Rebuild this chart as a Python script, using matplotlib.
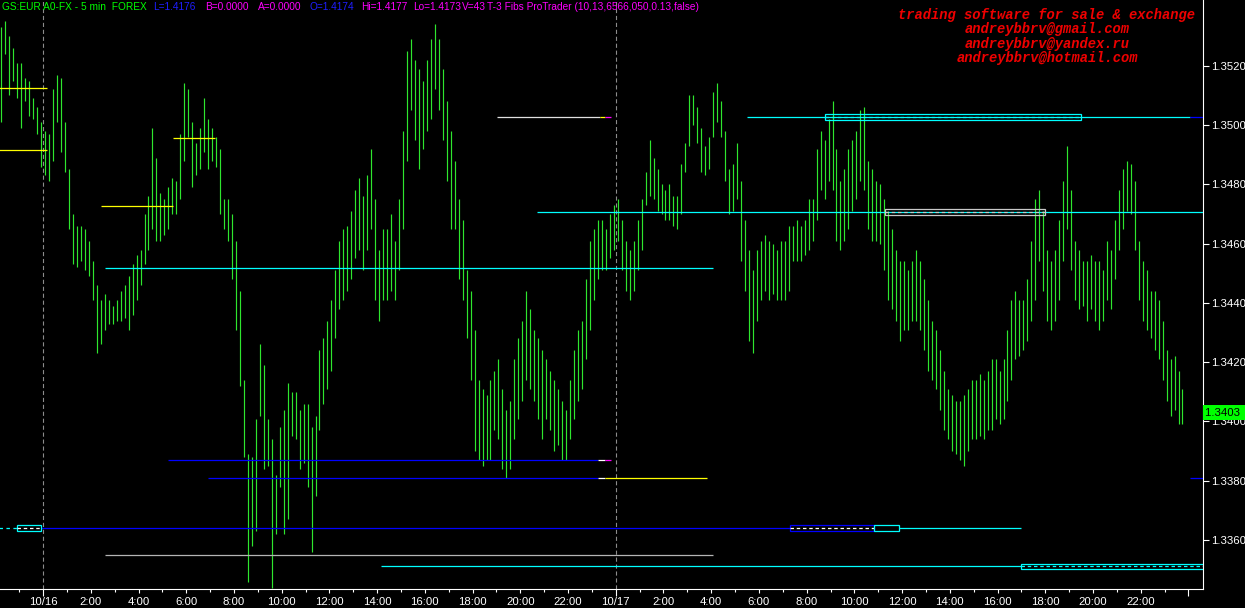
import numpy as np
import pandas as pd
import matplotlib
matplotlib.use("Agg")
import matplotlib.pyplot as plt
from matplotlib.patches import Rectangle
import matplotlib.transforms as mtransforms

plt.rcParams['lines.scale_dashes'] = False
plt.rcParams['font.family'] = ['Liberation Sans', 'DejaVu Sans']

# ---------------- data ----------------
BASE = 1.3            # prices below are in pips above 1.3000
PIP = 0.0001
bar_start = '2008-10-15 22:15'   # 10-minute bars
day0 = '2008-10-16'

high_pips = [
    533, 535, 530, 526, 521, 521, 516, 515, 509, 506,
    501, 498, 497, 512, 517, 516, 501, 485, 470, 466,
    466, 465, 461, 454, 446, 441, 443, 441, 439, 441,
    444, 446, 449, 453, 456, 458, 470, 476, 499, 489,
    477, 475, 479, 482, 481, 497, 514, 512, 501, 494,
    499, 509, 502, 499, 496, 492, 475, 475, 470, 461,
    444, 414, 389, 388, 401, 426, 419, 401, 394, 382,
    398, 404, 413, 410, 410, 404, 406, 406, 398, 402,
    424, 428, 434, 441, 451, 461, 465, 466, 471, 478,
    482, 476, 483, 492, 475, 458, 465, 465, 470, 461,
    475, 498, 525, 529, 522, 519, 515, 522, 529, 534,
    529, 519, 508, 498, 488, 475, 468, 451, 444, 431,
    414, 411, 409, 414, 417, 421, 411, 404, 407, 421,
    428, 434, 444, 438, 431, 428, 424, 421, 417, 414,
    411, 407, 404, 414, 424, 431, 434, 448, 461, 465,
    468, 468, 465, 470, 473, 475, 468, 461, 458, 461,
    468, 475, 484, 495, 489, 485, 480, 478, 480, 476,
    476, 487, 494, 510, 510, 506, 499, 493, 496, 511,
    514, 508, 498, 485, 487, 494, 481, 468, 458, 451,
    458, 461, 463, 461, 460, 458, 461, 461, 466, 466,
    468, 466, 468, 475, 475, 492, 498, 495, 502, 508,
    492, 481, 485, 492, 495, 498, 505, 506, 488, 485,
    481, 480, 475, 471, 465, 458, 454, 454, 451, 454,
    458, 454, 448, 441, 434, 431, 424, 417, 411, 409,
    407, 407, 409, 411, 414, 414, 416, 414, 417, 421,
    421, 417, 421, 431, 441, 444, 441, 441, 448, 461,
    475, 478, 471, 458, 454, 458, 468, 481, 493, 478,
    461, 458, 454, 454, 456, 454, 454, 451, 461, 458,
    468, 478, 485, 488, 487, 481, 461, 454, 451, 444,
    444, 441, 434, 424, 421, 422, 417, 411,
]
low_pips = [
    501, 524, 510, 515, 509, 499, 508, 503, 502, 497,
    486, 483, 481, 488, 501, 491, 484, 465, 453, 452,
    454, 451, 449, 441, 423, 426, 431, 433, 433, 434,
    434, 435, 431, 436, 441, 446, 453, 458, 465, 461,
    461, 463, 465, 470, 470, 475, 488, 496, 479, 483,
    485, 491, 485, 488, 486, 470, 465, 461, 448, 431,
    412, 388, 346, 358, 363, 402, 384, 385, 344, 362,
    378, 362, 367, 395, 394, 384, 386, 378, 356, 375,
    397, 406, 411, 417, 428, 438, 441, 444, 448, 455,
    458, 451, 458, 465, 441, 434, 441, 441, 444, 441,
    451, 465, 488, 505, 495, 485, 492, 498, 502, 512,
    505, 495, 481, 465, 465, 448, 441, 428, 414, 390,
    387, 385, 387, 387, 397, 394, 384, 381, 384, 394,
    401, 407, 414, 411, 407, 401, 394, 401, 397, 390,
    392, 387, 387, 394, 401, 407, 411, 421, 431, 441,
    448, 451, 451, 455, 458, 461, 451, 444, 441, 444,
    451, 458, 473, 476, 475, 471, 470, 468, 468, 466,
    465, 470, 484, 493, 500, 494, 484, 483, 485, 496,
    501, 496, 481, 470, 471, 475, 454, 444, 427, 423,
    434, 441, 444, 441, 443, 441, 441, 441, 444, 454,
    454, 454, 456, 458, 461, 468, 478, 475, 481, 478,
    461, 458, 461, 465, 471, 475, 481, 478, 465, 461,
    461, 460, 451, 441, 438, 434, 427, 431, 431, 434,
    434, 431, 424, 417, 414, 411, 404, 397, 394, 390,
    389, 387, 385, 390, 394, 394, 395, 394, 397, 397,
    401, 399, 401, 407, 414, 421, 422, 424, 427, 434,
    441, 454, 444, 434, 431, 434, 441, 454, 465, 451,
    441, 438, 439, 434, 438, 434, 431, 434, 441, 438,
    448, 458, 465, 471, 470, 458, 441, 434, 431, 428,
    424, 421, 414, 407, 402, 404, 399, 399,
]
last_price = 1.3403

y_ticks = [1.3360, 1.3380, 1.3400, 1.3420, 1.3440, 1.3460, 1.3480, 1.3500, 1.3520]
x_tick_hours = list(range(0, 49, 2))
x_tick_labels = ['10/16'] + [f'{h}:00' for h in range(2, 24, 2)] + ['10/17'] + \
                [f'{h}:00' for h in range(2, 24, 2)] + ['']
day_breaks = [0, 24]

# Fib level segments: price, start hour, end hour, colour
seg_price = [1.35124, 1.34916, 1.34955, 1.34727, 1.34518,
             1.35027, 1.35027, 1.35027, 1.35027, 1.35027,
             1.34707,
             1.33869, 1.33869, 1.33869,
             1.33808, 1.33808, 1.33808, 1.33808,
             1.33640, 1.33640, 1.33550, 1.33511]
seg_start = [-1.9, -1.9, 5.44, 2.43, 2.59,
             19.02, 23.34, 23.55, 29.50, 48.07,
             20.70,
             5.24, 23.26, 23.55,
             6.91, 23.26, 23.55, 48.07,
             -0.09, 35.87, 2.59, 14.16]
seg_end = [0.16, 0.16, 7.20, 5.44, 28.08,
           23.34, 23.55, 23.80, 48.07, 49.0,
           49.0,
           23.26, 23.55, 23.80,
           23.26, 23.55, 27.82, 49.0,
           31.30, 40.99, 28.08, 40.99]
seg_color = ['#ffff00', '#ffff00', '#ffff00', '#ffff00', '#00ffff',
             '#e0e0e0', '#ffff00', '#ff00ff', '#00ffff', '#0000ff',
             '#00ffff',
             '#0000ff', '#ffffff', '#ff00ff',
             '#0000ff', '#ffffff', '#ffff00', '#0000ff',
             '#0000ff', '#00ffff', '#b4b4b4', '#00ffff']

# zone boxes: centre price, start hour, end hour, edge colour, dash colour
box_price = [1.35027, 1.34707, 1.33640, 1.33640, 1.33511, 1.33640]
box_start = [32.77, 35.29, 31.30, 34.82, 40.99, -1.09]
box_end = [43.50, 41.99, 34.82, 35.87, 49.0, -0.09]
box_edge = ['#00ffff', '#c8c8c8', '#0000ff', '#00ffff', '#00ffff', '#00ffff']
box_dash = ['#00ffff', '#c8c8c8', '#ffffff', None, '#00ffff', '#ffffff']
box_half = 1.0  # pips

# ---------------- figure ----------------
W, H = 1245, 608
fig = plt.figure(figsize=(W / 100, H / 100), dpi=100, facecolor='black')
ax = fig.add_axes([0, 19 / H, 1203 / W, 589 / H])
ax.set_facecolor('black')
ax.set_xlim(-1.806, 48.61)
ax.set_ylim(1.334350, 1.354216)

times = pd.date_range(bar_start, periods=len(high_pips), freq='10min')
hours = (times - pd.Timestamp(day0)) / pd.Timedelta('1h')
highs = BASE + np.array(high_pips) * PIP
lows = BASE + np.array(low_pips) * PIP

# day separators
for d in day_breaks:
    ax.axvline(d, color='#8c8c8c', lw=0.8, dashes=(3.0, 2.0), zorder=1)

# bars
ax.vlines(hours, lows, highs, color='#2ee62e', lw=0.85, zorder=3)

# fib segments
for p, s, e, c in zip(seg_price, seg_start, seg_end, seg_color):
    ax.plot([s, e], [p, p], color=c, lw=0.9, zorder=4, solid_capstyle='butt')
ax.plot([-1.9, -1.09], [1.33640, 1.33640], color='#00ffff', lw=0.9,
        dashes=(2.5, 2.5), zorder=4)

for p, s, e, ec, dc in zip(box_price, box_start, box_end, box_edge, box_dash):
    ax.add_patch(Rectangle((s, p - box_half * PIP), e - s, 2 * box_half * PIP,
                           fill=False, ec=ec, lw=0.9, zorder=5))
    if dc:
        ax.plot([s, e], [p, p], color=dc, lw=0.9, dashes=(2.5, 2.0), zorder=5)

# axes styling
for sp in ['top', 'left']:
    ax.spines[sp].set_visible(False)
for sp in ['right', 'bottom']:
    ax.spines[sp].set_color('white')
    ax.spines[sp].set_linewidth(0.8)

ax.yaxis.tick_right()
ax.set_yticks(y_ticks)
ax.set_yticklabels([f'{v:.4f}' for v in y_ticks])
ax.tick_params(axis='y', colors='white', length=4, width=0.8, pad=1.5,
               labelsize=8.2, direction='out')

ax.set_xticks(x_tick_hours)
ax.set_xticklabels(x_tick_labels)
ax.set_xticks(np.arange(-1, 49, 1), minor=True)
ax.tick_params(axis='x', which='both', colors='white', direction='out',
               labelsize=8.2, pad=3)
ax.tick_params(axis='x', which='major', length=3, width=0.8)
ax.tick_params(axis='x', which='minor', length=2.5, width=0.8)
for h, tk in zip(x_tick_hours, ax.xaxis.get_major_ticks()):
    if h % 24 == 0:
        tk.tick1line.set_markersize(5)

# last price tag
trans = mtransforms.blended_transform_factory(ax.transAxes, ax.transData)
ax.text(1.0015, last_price, f'{last_price:.4f} ', transform=trans, ha='left',
        va='center', fontsize=8.2, color='black', clip_on=False,
        bbox=dict(boxstyle='square,pad=0.2', fc='#00ff00', ec='none'))

# header
header = [("GS:EUR A0-FX - 5 min  FOREX", '#00ff00', 2),
          ("L=1.4176", '#1e1eff', 153),
          ("B=0.0000", '#ff00ff', 205),
          ("A=0.0000", '#ff00ff', 258),
          ("O=1.4174", '#1e1eff', 310),
          ("Hi=1.4177", '#ff00ff', 361),
          ("Lo=1.4173", '#ff00ff', 413),
          ("V=43", '#ff00ff', 462),
          ("T-3 Fibs ProTrader (10,13,6566,050,0.13,false)", '#ff00ff', 487)]
for txt, col, xp in header:
    fig.text(xp / W, 1 - 7.5 / H, txt, color=col, fontsize=7.3,
             ha='left', va='center')

promo = ["trading software for sale & exchange", "andreybbrv@gmail.com",
         "andreybbrv@yandex.ru", "andreybbrv@hotmail.com"]
for i, line in enumerate(promo):
    fig.text(1047 / W, 1 - (15 + 14.4 * i) / H, line, color='#ee0000',
             fontsize=9.9, family='Liberation Mono', weight='bold',
             style='italic', ha='center', va='center')

fig.savefig('out.png', dpi=100, facecolor='black')
